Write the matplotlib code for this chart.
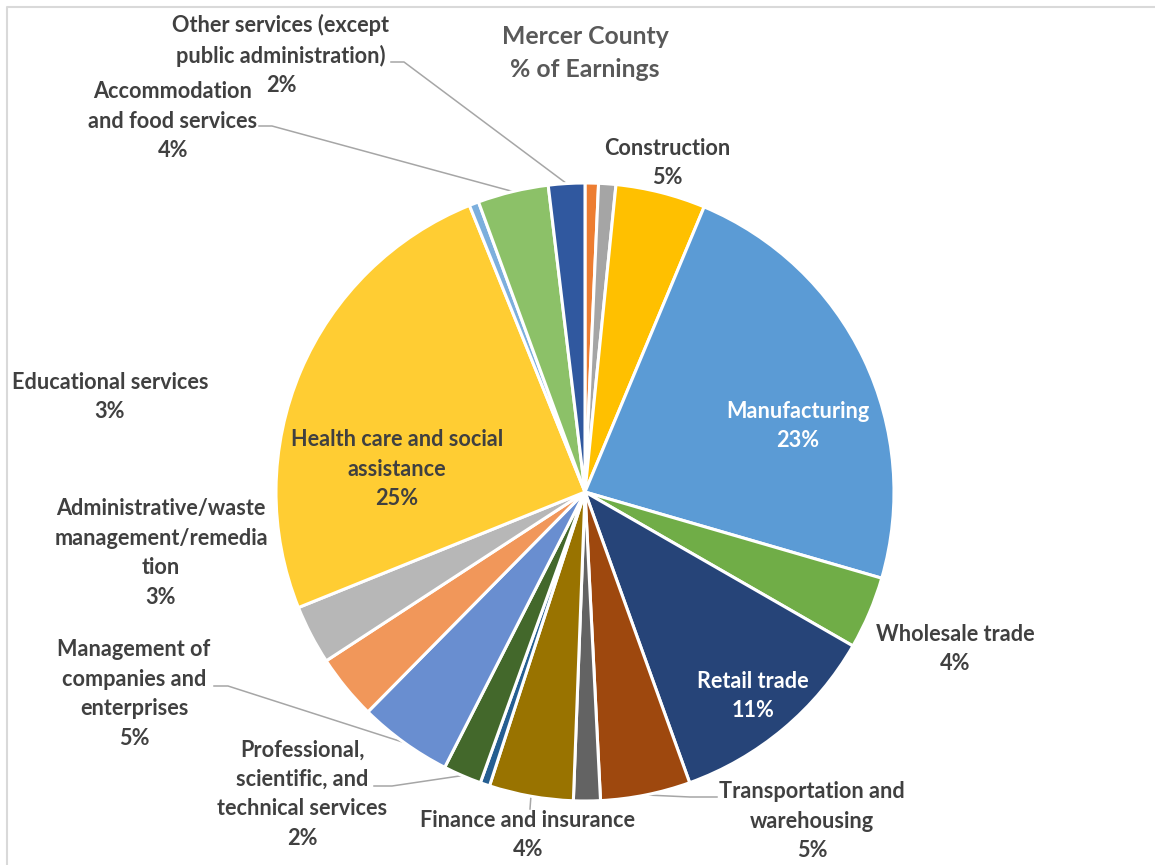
import numpy as np
import matplotlib
matplotlib.use("Agg")
import matplotlib.pyplot as plt

plt.rcParams['font.family'] = ['Lato', 'DejaVu Sans']

# Industry shares of total earnings, Mercer County (percent), clockwise from 12 o'clock
industries = [
    "Forestry, fishing,\nand related activities",
    "Mining",
    "Construction",
    "Manufacturing",
    "Wholesale trade",
    "Retail trade",
    "Transportation and\nwarehousing",
    "Information",
    "Finance and insurance",
    "Real estate and\nrental and leasing",
    "Professional,\nscientific, and\ntechnical services",
    "Management of\ncompanies and\nenterprises",
    "Administrative/waste\nmanagement/remedia\ntion",
    "Educational services",
    "Health care and social\nassistance",
    "Arts, entertainment,\nand recreation",
    "Accommodation\nand food services",
    "Other services (except\npublic administration)",
]
shares = [0.7, 0.9, 4.7, 23.2, 3.8, 11.2, 4.7, 1.4, 4.4, 0.5,
          2.0, 4.9, 3.4, 3.1, 25.0, 0.5, 3.7, 1.9]
colors = ["#ED7D31", "#A5A5A5", "#FFC000", "#5B9BD5", "#70AD47", "#264478",
          "#9E480E", "#636363", "#997300", "#255E91", "#43682B", "#698ED0",
          "#F1975A", "#B7B7B7", "#FFCD33", "#7CAFDD", "#8CC168", "#30589F"]

W, H = 1155, 865
fig = plt.figure(figsize=(W / 100, H / 100), dpi=100)
ax = fig.add_axes([0, 0, 1, 1])

cx, cy, R = 585, 492, 309
wedges, _ = ax.pie(shares, colors=colors, startangle=-90, counterclock=True,
                   center=(cx, cy), radius=R,
                   wedgeprops=dict(edgecolor="white", linewidth=2.2))
ax.set_xlim(0, W)
ax.set_ylim(H, 0)
ax.set_aspect("equal")
ax.axis("off")

# chart frame
ax.plot([7, 7, W + 5], [H + 5, 6.5, 6.5], color="#D9D9D9", lw=1.5,
        solid_capstyle="butt", clip_on=False)

ax.text(cx, 53, "Mercer County\n% of Earnings", ha="center", va="center",
        fontsize=17.8, fontweight="bold", color="#595959", linespacing=1.5)

dark = "#404040"
# label placement: index -> (x, y, text colour, leader elbow points)
layout = {
    2: (667, 163, dark, None),
    3: (798, 426, "white", None),
    4: (955, 649, dark, None),
    5: (753, 696, "white", None),
    6: (812, 821, dark, [(690, 797), (717, 797)]),
    8: (528, 835, dark, [(530, 809)]),
    10: (302, 794, dark, [(392, 786), (374, 786)]),
    11: (134, 694, dark, [(228, 686), (214, 686)]),
    12: (161, 553, dark, None),
    13: (110, 397, dark, None),
    14: (397, 469, dark, None),
    16: (173, 121, dark, [(272, 126), (259, 126)]),
    17: (281, 55, dark, [(404, 62), (391, 62)]),
}

for i, (x, y, col, elbow) in layout.items():
    label = f"{industries[i]}\n{round(shares[i])}%"
    ax.text(x, y, label, ha="center", va="center", fontsize=15.6,
            fontweight="bold", color=col, linespacing=1.5)
    if elbow:
        w = wedges[i]
        mid = np.deg2rad((w.theta1 + w.theta2) / 2)
        px, py = cx + R * np.cos(mid), cy + R * np.sin(mid)
        xs = [px] + [p[0] for p in elbow]
        ys = [py] + [p[1] for p in elbow]
        ax.plot(xs, ys, color="#A6A6A6", lw=1.1, zorder=0.5)

fig.savefig("out.png", dpi=100, facecolor="white")
